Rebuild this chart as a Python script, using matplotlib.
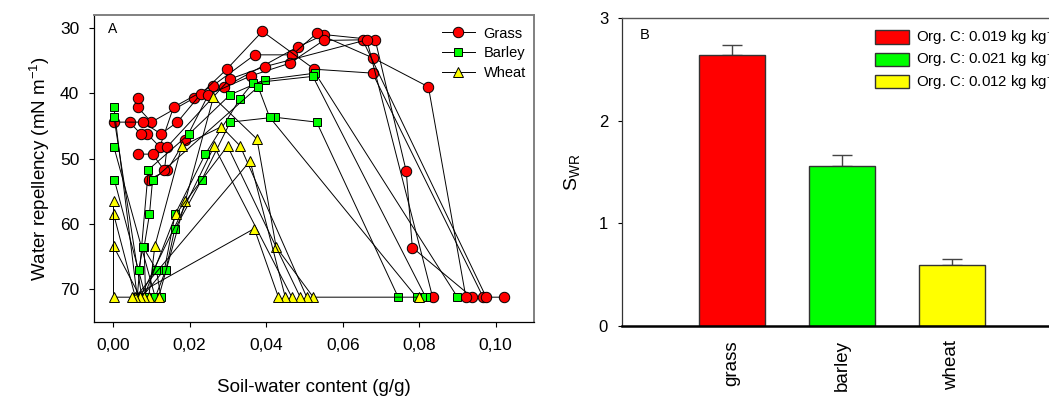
import matplotlib
matplotlib.use("Agg")
import matplotlib.pyplot as plt
from matplotlib.ticker import FuncFormatter

plt.rcParams['font.family'] = ['Liberation Sans', 'DejaVu Sans']
plt.rcParams['mathtext.fontset'] = 'custom'
plt.rcParams['mathtext.rm'] = 'Liberation Sans'
plt.rcParams['mathtext.it'] = 'Liberation Sans:italic'
plt.rcParams['mathtext.bf'] = 'Liberation Sans:bold'

# ---- Panel A: drying curves (soil-water content vs water repellency) ----
grass_x = [
    [0.0938, 0.0782, 0.0766, 0.0685, 0.0552, 0.0482, 0.0290, 0.0212, 0.0100, 0.0064, 0.0065],
    [0.0922, 0.0824, 0.0680, 0.0532, 0.0468, 0.0370, 0.0260, 0.0158, 0.0122, 0.0089, 0.0072, 0.0043],
    [0.0967, 0.0678, 0.0526, 0.0390, 0.0297, 0.0229, 0.0168, 0.0125, 0.0077, 0.0001],
    [0.1021, 0.0975, 0.0652, 0.0550, 0.0461, 0.0361, 0.0249, 0.0189, 0.0141, 0.0093],
    [0.0835, 0.0663, 0.0397, 0.0305, 0.0141, 0.0134, 0.0103, 0.0065],
]
grass_y = [
    [71.2, 63.6, 51.9, 31.8, 31.0, 32.9, 39.05, 40.7, 44.4, 42.1, 40.7],
    [71.2, 39.0, 34.6, 30.8, 34.1, 34.1, 38.85, 42.1, 48.2, 46.2, 46.2, 44.4],
    [71.2, 36.9, 36.3, 30.5, 36.3, 40.1, 44.4, 46.2, 44.4, 44.4],
    [71.2, 71.2, 31.8, 31.9, 35.4, 37.3, 40.2, 47.1, 51.8, 53.2],
    [71.2, 31.8, 35.9, 37.8, 48.2, 51.8, 49.3, 49.3],
]

barley_x = [
    [0.0900, 0.0528, 0.0397, 0.0306, 0.0199, 0.0092, 0.0063, 0.0002],
    [0.0817, 0.0522, 0.0365, 0.0332, 0.0241, 0.0162, 0.0134, 0.0075, 0.0002],
    [0.0745, 0.0532, 0.0422, 0.0306, 0.0231, 0.0161, 0.0138, 0.0110, 0.0002],
    [0.0807, 0.0793, 0.0409, 0.0379, 0.0103, 0.0095, 0.0081, 0.0085, 0.0003],
    [0.0125, 0.0113, 0.0078, 0.0067],
]
barley_y = [
    [71.2, 36.9, 37.9, 40.2, 46.2, 51.7, 71.2, 42.1],
    [71.2, 37.4, 38.4, 40.8, 49.3, 58.5, 67.0, 71.2, 43.6],
    [71.2, 44.4, 43.65, 44.4, 53.3, 60.8, 67.0, 71.2, 48.2],
    [71.2, 71.2, 43.65, 39.0, 53.3, 58.5, 63.5, 71.2, 53.2],
    [71.2, 67.0, 63.5, 67.0],
]

wheat_x = [
    [0.0800, 0.0523, 0.0426, 0.0376, 0.0262, 0.0189, 0.0119],
    [0.0506, 0.0332, 0.0283, 0.0179, 0.0109, 0.0093],
    [0.0489, 0.0299, 0.0165, 0.0080],
    [0.0467, 0.0264, 0.0071, 0.0001],
    [0.0450, 0.0358, 0.0058, 0.0001],
    [0.0432, 0.0369, 0.0049, 0.0001, 0.0001],
]
wheat_y = [
    [71.2, 71.2, 63.5, 47.0, 40.6, 56.4, 71.2],
    [71.2, 48.05, 45.1, 48.1, 63.4, 71.2],
    [71.2, 48.05, 58.4, 71.2],
    [71.2, 48.1, 71.2, 63.4],
    [71.2, 50.35, 71.2, 58.4],
    [71.2, 60.7, 71.2, 71.2, 56.4],
]

# ---- Panel B: S_WR bars ----
soils = ["grass", "barley", "wheat"]
swr = [2.64, 1.56, 0.59]
swr_err = [0.10, 0.11, 0.065]
org_c = ["Org. C: 0.019 kg kg$^{-1}$", "Org. C: 0.021 kg kg$^{-1}$", "Org. C: 0.012 kg kg$^{-1}$"]

RED, GREEN, YELLOW = "#ff0000", "#00ff00", "#ffff00"

W, H = 1049, 397
fig = plt.figure(figsize=(W / 100, H / 100), dpi=100)

# Panel A
axA = fig.add_axes([94 / W, 1 - 322 / H, 440 / W, 307 / H])
series = [
    (grass_x, grass_y, "o", RED, 7.5, "Grass"),
    (barley_x, barley_y, "s", GREEN, 6.3, "Barley"),
    (wheat_x, wheat_y, "^", YELLOW, 7.0, "Wheat"),
]
for xs, ys, mk, col, ms, name in series:
    for i, (x, y) in enumerate(zip(xs, ys)):
        axA.plot(x, y, color="black", lw=0.7, marker=mk, ms=ms,
                 mfc=col, mec="black", mew=0.7,
                 label=name if i == 0 else None)

axA.set_xlim(-0.005, 0.11)
axA.set_ylim(75, 28)
axA.set_xticks([0, 0.02, 0.04, 0.06, 0.08, 0.10])
axA.set_yticks([30, 40, 50, 60, 70])
axA.xaxis.set_major_formatter(FuncFormatter(lambda v, p: f"{v:.2f}".replace(".", ",")))
axA.tick_params(direction="out", length=3.6, width=0.8, labelsize=12.5, pad=7)
axA.tick_params(axis="x", pad=8)
axA.tick_params(top=False, right=False)
for s in ["left", "bottom"]:
    axA.spines[s].set_color("black")
    axA.spines[s].set_linewidth(0.9)
for s in ["top", "right"]:
    axA.spines[s].set_color("#808080")
    axA.spines[s].set_linewidth(1.4)
axA.set_xlabel("Soil-water content (g/g)", fontsize=13.5, labelpad=19)
axA.set_ylabel("Water repellency (mN m$^{-1}$)", fontsize=13.5, labelpad=6)
axA.text(108 / W, 1 - 29 / H, "A", transform=fig.transFigure, fontsize=10,
         ha="left", va="center")
legA = axA.legend(loc="upper left", bbox_to_anchor=(442 / W, 1 - 26.5 / H),
                  bbox_transform=fig.transFigure, frameon=False, fontsize=10.5,
                  handlelength=2.26, handletextpad=0.6, labelspacing=0.4,
                  borderpad=0, borderaxespad=0, numpoints=1)

# Panel B
axB = fig.add_axes([622 / W, 1 - 326 / H, 440 / W, 308 / H])
pos = [1, 2, 3]
bars = axB.bar(pos, swr, width=0.6, color=[RED, GREEN, YELLOW],
               edgecolor="#333333", linewidth=1.0, zorder=2)
axB.errorbar(pos, swr, yerr=[[0, 0, 0], swr_err], fmt="none",
             ecolor="#444444", elinewidth=1.0, capsize=7.5, capthick=1.0, zorder=1)
axB.set_xlim(0, 4)
axB.set_ylim(0, 3)
axB.set_yticks([0, 1, 2, 3])
axB.set_xticks(pos)
axB.set_xticklabels(soils, rotation=90, fontsize=13.5)
axB.tick_params(axis="x", length=0, pad=10)
axB.tick_params(axis="y", direction="out", length=3, width=0.8, labelsize=12, pad=7)
axB.spines["left"].set_color("#333333")
axB.spines["left"].set_linewidth(0.9)
axB.spines["bottom"].set_color("black")
axB.spines["bottom"].set_linewidth(1.8)
axB.spines["top"].set_color("#555555")
axB.spines["top"].set_linewidth(1.0)
axB.spines["right"].set_visible(False)
axB.set_ylabel("$\\mathregular{S_{WR}}$", fontsize=14, labelpad=12)
axB.text(640 / W, 1 - 35 / H, "B", transform=fig.transFigure, fontsize=10.5,
         ha="left", va="center")
legB = axB.legend(bars, org_c, loc="upper left", bbox_to_anchor=(875 / W, 1 - 26.5 / H),
                  bbox_transform=fig.transFigure, frameon=False, fontsize=10.8,
                  handlelength=2.26, handleheight=1.02, handletextpad=0.5,
                  labelspacing=0.05, borderpad=0, borderaxespad=0)

fig.savefig("out.png", dpi=100)
